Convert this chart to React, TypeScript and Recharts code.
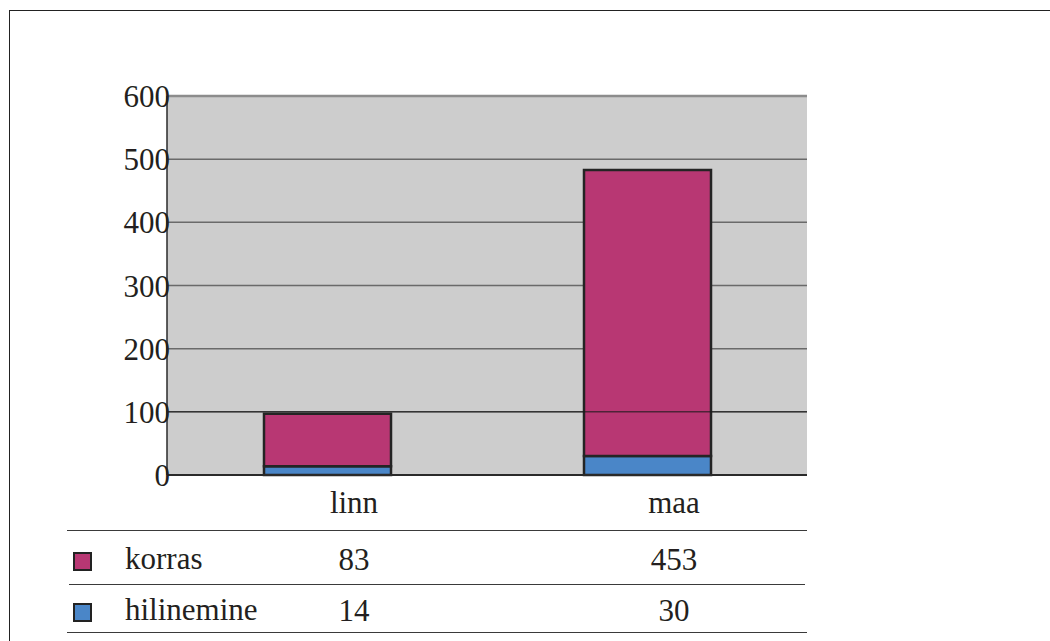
import { BarChart, Bar, XAxis, YAxis, CartesianGrid, ReferenceLine } from "recharts"

const categories = ["linn", "maa"]
const korras = [83, 453]
const hilinemine = [14, 30]
const yTicks = [0, 100, 200, 300, 400, 500, 600]
const seriesNames = ["korras", "hilinemine"]

const data = categories.map((name, i) => ({ name, korras: korras[i], hilinemine: hilinemine[i] }))

const FONT = "'Liberation Serif', 'Times New Roman', serif"
const INK = "#231f20"
const MAGENTA = "#b83773"
const BLUE = "#4a86c8"

function YTick({ x, y, payload }: any) {
  return (
    <text x={x + 3} y={y + 11} textAnchor="end" fontFamily={FONT} fontSize={31} fill={INK}>
      {payload.value}
    </text>
  )
}

// header + values of the data table, one column per category
function TableTick({ x, y, payload, index }: any) {
  const cx = x + 27
  return (
    <g fontFamily={FONT} fontSize={31} fill={INK} textAnchor="middle">
      <text x={cx} y={y + 38}>{payload.value}</text>
      <text x={cx} y={y + 95}>{korras[index]}</text>
      <text x={cx} y={y + 146}>{hilinemine[index]}</text>
    </g>
  )
}

const line = (top: number, left: number, right: number) => (
  <div
    style={{ position: "absolute", top, left, width: right - left, height: 0, borderTop: "1.5px solid #3a3a3a" }}
  />
)

export default function App() {
  const swatches = [MAGENTA, BLUE]
  return (
    <div style={{ position: "absolute", left: 0, top: 0, width: 1050, height: 641, overflow: "hidden", background: "#fff" }}>
      <div
        style={{
          position: "absolute",
          left: 9,
          top: 10,
          width: 1060,
          height: 660,
          borderTop: "1.5px solid #222",
          borderLeft: "1.5px solid #222",
        }}
      />
      <div style={{ position: "absolute", left: 0, top: 0 }}>
        <BarChart width={1050} height={641} data={data} margin={{ top: 96, right: 243, bottom: 136, left: 107 }}>
          <CartesianGrid vertical={false} stroke="#6a6a6a" strokeWidth={1.5} fill="#cdcdcd" fillOpacity={1} />
          <XAxis
            dataKey="name"
            height={30}
            tickLine={false}
            tickSize={0}
            tickMargin={0}
            axisLine={{ stroke: "#2a2a2a", strokeWidth: 2 }}
            tick={<TableTick />}
            interval={0}
          />
          <YAxis
            width={60}
            domain={[0, 600]}
            ticks={yTicks}
            tickLine={false}
            tickSize={0}
            tickMargin={0}
            axisLine={{ stroke: "#2a2a2a", strokeWidth: 1.5 }}
            tick={<YTick />}
            interval={0}
          />
          <YAxis
            yAxisId="r"
            orientation="right"
            width={0}
            domain={[0, 600]}
            tick={false}
            tickLine={false}
            axisLine={{ stroke: "#8c8c8c", strokeWidth: 2 }}
          />
          <ReferenceLine y={600} stroke="#8c8c8c" strokeWidth={2.5} />
          <ReferenceLine y={100} stroke="#1a1a1a" strokeWidth={1} />
          <Bar dataKey="hilinemine" stackId="a" barSize={127} fill={BLUE} stroke="#242424" strokeWidth={2.5} isAnimationActive={false} />
          <Bar dataKey="korras" stackId="a" barSize={127} fill={MAGENTA} stroke="#242424" strokeWidth={2.5} isAnimationActive={false} />
        </BarChart>
      </div>
      {line(530, 67, 807)}
      {line(584, 69, 805)}
      {line(632, 67, 807)}
      {seriesNames.map((s, i) => (
        <div key={s}>
          <div
            style={{
              position: "absolute",
              left: 73,
              top: 552 + i * 51,
              width: 15,
              height: 15,
              background: swatches[i],
              border: "2px solid #222",
            }}
          />
          <div
            style={{
              position: "absolute",
              left: 125,
              top: 541 + i * 51,
              fontFamily: FONT,
              fontSize: 31,
              lineHeight: "36px",
              color: INK,
              whiteSpace: "nowrap",
            }}
          >
            {s}
          </div>
        </div>
      ))}
    </div>
  )
}
